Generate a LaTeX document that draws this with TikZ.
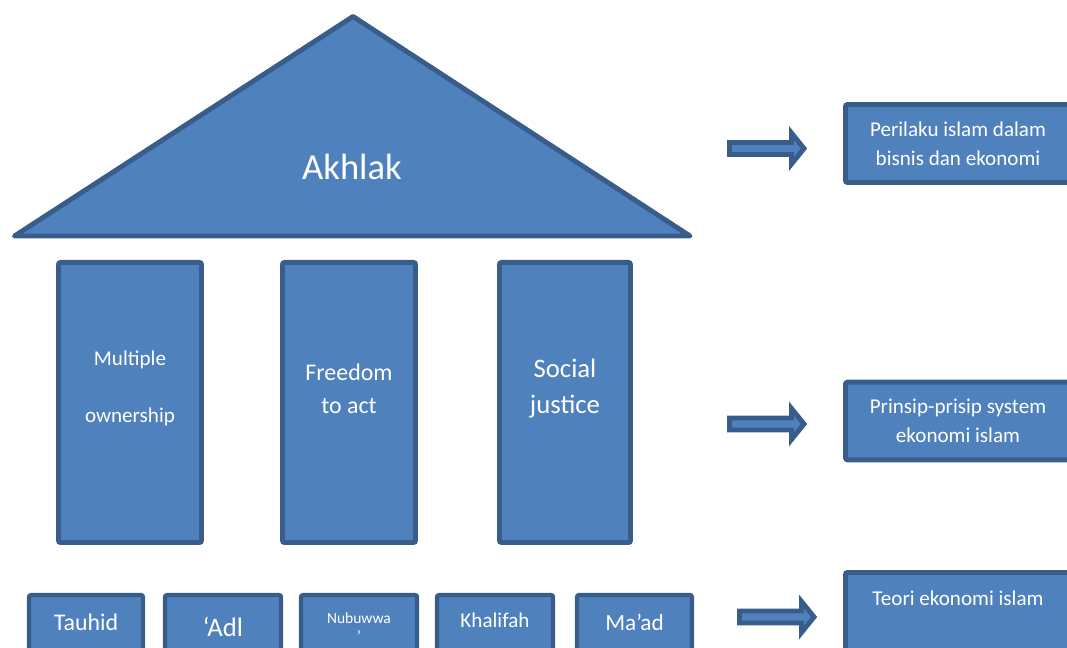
\documentclass[tikz,border=0pt]{standalone}
\usepackage{fontspec}
\setmainfont{Carlito}
\definecolor{pillarfill}{HTML}{4F81BD}
\definecolor{pillarline}{HTML}{385D8A}

\begin{document}
\begin{tikzpicture}[x=0.025cm, y=-0.025cm,
    block/.style={draw=pillarline, fill=pillarfill, line width=3.5pt, rounded corners=1.5pt, text=white, inner sep=0pt, align=center},
    pillar/.style={block, minimum height=7cm},
    base/.style={block, line width=3pt, minimum width=2.9cm, minimum height=2cm},
    result/.style={block, minimum width=5.625cm, font=\fontsize{15}{20.5}\selectfont},
    inlabel/.style={text=white, align=center, inner sep=0pt},
    blockarrow/.style={draw=pillarline, fill=pillarfill, line width=3.5pt, miter limit=10}]
    \useasboundingbox (0,0) rectangle (1067,648);
    \clip (0,0) rectangle (1067,648);

    % roof
    \draw[draw=pillarline, fill=pillarfill, line width=3.5pt, line join=round] (14.5,236) -- (353,16.5) -- (690,236) -- cycle;
    \node[text=white, font=\fontsize{26}{30}\selectfont] (akhlak) at (352,167) {Akhlak};

    % pillars
    \node[pillar, minimum width=3.575cm, label={[inlabel, yshift=0.35cm, font=\fontsize{15}{40.4}\selectfont]center:Multiple\\ownership}] (ownership) at (130,402.5) {};
    \node[pillar, minimum width=3.325cm, label={[inlabel, yshift=0.35cm, font=\fontsize{17}{23.4}\selectfont]center:Freedom\\to act}] (freedom) at (349,402.5) {};
    \node[pillar, minimum width=3.275cm, label={[inlabel, yshift=0.35cm, font=\fontsize{19}{26.2}\selectfont]center:Social\\justice}] (justice) at (565,402.5) {};

    % foundation
    \node[base, minimum width=2.85cm, label={[inlabel, yshift=0.325cm, font=\fontsize{17}{20}\selectfont]center:Tauhid}] (tauhid) at (86,635) {};
    \node[base, label={[inlabel, yshift=0.2cm, font=\fontsize{19}{22}\selectfont]center:`Adl}] (adl) at (223,635) {};
    \node[base, label={[inlabel, yshift=0.19cm, font=\fontsize{11}{13}\selectfont]center:Nubuwwa\\'}] (nubuwwah) at (359,635) {};
    \node[base, label={[inlabel, yshift=0.375cm, font=\fontsize{15}{18}\selectfont]center:Khalifah}] (khalifah) at (495,635) {};
    \node[base, minimum width=2.875cm, label={[inlabel, yshift=0.325cm, font=\fontsize{16.5}{20}\selectfont]center:Ma'ad}] (maad) at (634.5,635) {};

    % arrows
    \foreach \ax/\ay in {729.5/148.5, 729.5/424, 739.5/617}
        \draw[blockarrow] (\ax,\ay) ++(0,-6) -- ++(62,0) -- ++(0,-9.5) -- ++(12.5,15.5) -- ++(-12.5,15.5) -- ++(0,-9.5) -- ++(-62,0) -- cycle;

    % right boxes
    \node[result, minimum height=1.95cm] (perilaku) at (958,143.5) {Perilaku islam dalam\\bisnis dan ekonomi};
    \node[result, minimum height=1.94cm] (prinsip) at (958,421) {Prinsip-prisip system\\ekonomi islam};
    \node[result, minimum height=2.5cm, label={[inlabel, yshift=0.6125cm, font=\fontsize{15}{20.5}\selectfont]center:Teori ekonomi islam}] (teori) at (958,622.5) {};
\end{tikzpicture}
\end{document}
